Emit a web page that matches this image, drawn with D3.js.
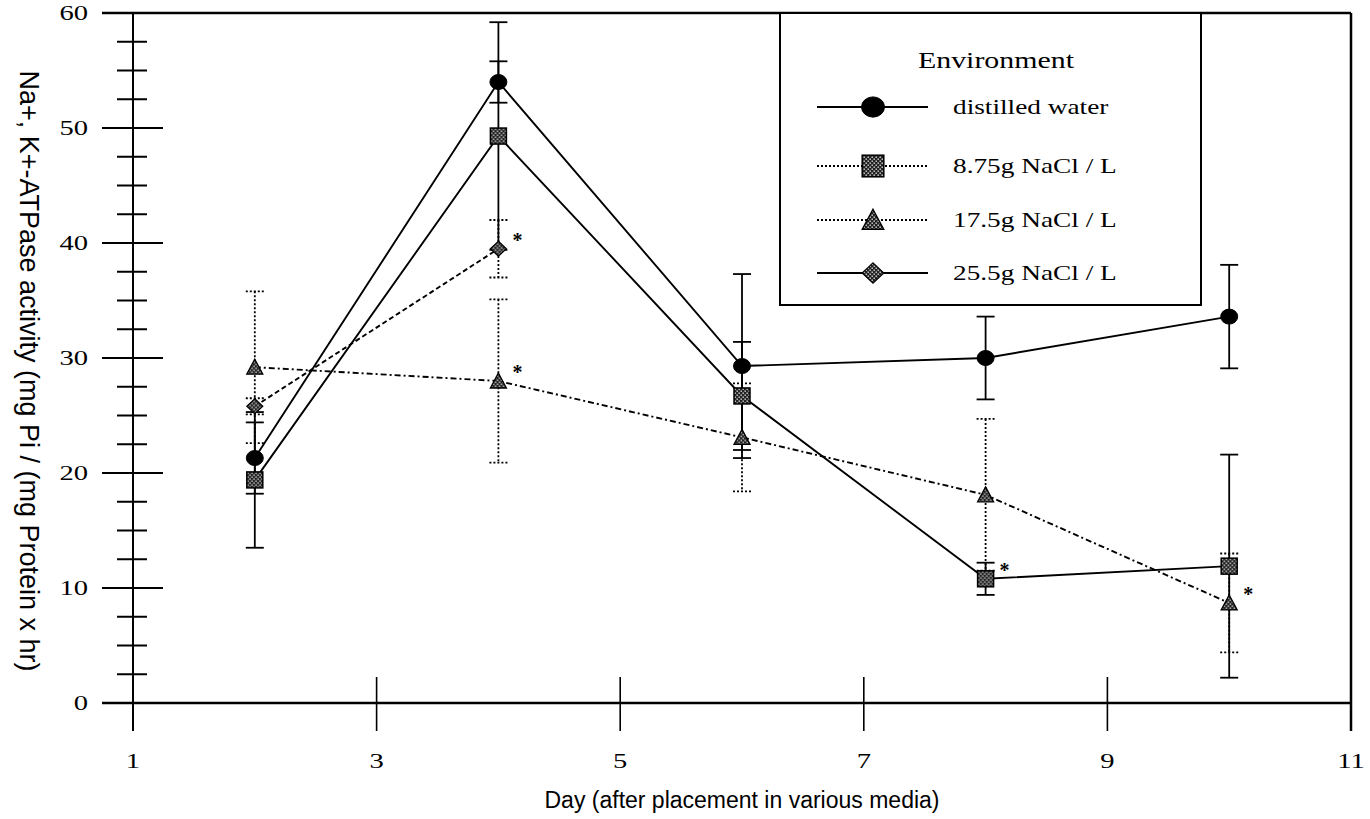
<!DOCTYPE html>
<html>
<head>
<meta charset="utf-8">
<script src="https://cdn.jsdelivr.net/npm/d3@7"></script>
<style>
  html, body { margin: 0; padding: 0; background: #fff; }
  svg { display: block; }
</style>
</head>
<body>
<svg id="chart" width="1370" height="819"></svg>
<script>
// ---- data ----
const days = [2, 4, 6, 8, 10];
const xTicks = [1, 3, 5, 7, 9, 11];
const yTicks = [0, 10, 20, 30, 40, 50, 60];

const distilledMean = [21.3, 54.0, 29.3, 30.0, 33.6];
const distilledErr  = [3.1, 1.8, 8.0, 3.6, 4.5];

const nacl875Mean = [19.4, 49.3, 26.7, 10.8, 11.9];
const nacl875Err  = [5.9, 9.9, 4.7, 1.4, 9.7];

const nacl175Mean = [29.2, 28.0, 23.1, 18.1, 8.7];
const nacl175Err  = [6.6, 7.1, 4.7, 6.6, 4.3];

const nacl255Days = [2, 4];
const nacl255Mean = [25.8, 39.5];
const nacl255Err  = [0.7, 2.5];

// significance markers
const starDays   = [4, 4, 8, 10];
const starValues = [39.5, 28.0, 10.8, 8.7];

const legendLabels = ["distilled water", "8.75g NaCl / L", "17.5g NaCl / L", "25.5g NaCl / L"];

const serif = "'Liberation Serif', 'Times New Roman', serif";
const sans = "'Liberation Sans', Arial, sans-serif";
const SX = 1.3; // horizontal stretch of the serif lettering

const svg = d3.select("#chart");
const x = d3.scaleLinear().domain([1, 11]).range([133, 1351]);
const y = d3.scaleLinear().domain([0, 60]).range([703, 13]);

// crosshatch fill used by the open markers
const defs = svg.append("defs");
const pat = defs.append("pattern").attr("id", "hatch")
  .attr("width", 4).attr("height", 4).attr("patternUnits", "userSpaceOnUse");
pat.append("rect").attr("width", 4).attr("height", 4).attr("fill", "#222");
pat.append("rect").attr("x", 0.5).attr("y", 0.5).attr("width", 1.4).attr("height", 1.4).attr("fill", "#ddd");
pat.append("rect").attr("x", 2.5).attr("y", 2.5).attr("width", 1.4).attr("height", 1.4).attr("fill", "#ddd");

// ---- frame and axes ----
const g = svg.append("g").attr("stroke", "#000").attr("fill", "none");
g.append("line").attr("x1", 102).attr("x2", x(11)).attr("y1", y(60)).attr("y2", y(60)).attr("stroke-width", 2.5);
g.append("line").attr("x1", x(11)).attr("x2", x(11)).attr("y1", y(60)).attr("y2", 731).attr("stroke-width", 2.5);
g.append("line").attr("x1", x(1)).attr("x2", x(1)).attr("y1", y(60)).attr("y2", 731).attr("stroke-width", 2);
g.append("line").attr("x1", 102).attr("x2", x(11)).attr("y1", y(0)).attr("y2", y(0)).attr("stroke-width", 2.5);

// y ticks: major every 10, minor every 2.5
const yMinor = d3.range(0, 60.01, 2.5).filter(v => v % 10 !== 0);
g.selectAll(".ymaj").data(yTicks).join("line")
  .attr("x1", 102).attr("x2", 163).attr("y1", d => y(d)).attr("y2", d => y(d)).attr("stroke-width", 2);
g.selectAll(".ymin").data(yMinor).join("line")
  .attr("x1", 117).attr("x2", 147).attr("y1", d => y(d)).attr("y2", d => y(d)).attr("stroke-width", 2);
// x ticks crossing the baseline
g.selectAll(".xmaj").data(xTicks.filter(d => d > 1 && d < 11)).join("line")
  .attr("x1", d => x(d)).attr("x2", d => x(d)).attr("y1", 677).attr("y2", 731).attr("stroke-width", 1.6);

// tick labels
svg.selectAll(".ylab").data(yTicks).join("text")
  .attr("transform", d => `translate(88,${y(d) + 7}) scale(${SX},1)`)
  .attr("text-anchor", "end").attr("font-family", serif).attr("font-size", 22)
  .text(d => d);
svg.selectAll(".xlab").data(xTicks).join("text")
  .attr("transform", d => `translate(${x(d)},768) scale(${SX},1)`)
  .attr("text-anchor", "middle").attr("font-family", serif).attr("font-size", 22)
  .text(d => d);

// axis titles
svg.append("text")
  .attr("transform", "translate(20,371) rotate(90)")
  .attr("text-anchor", "middle").attr("font-family", sans).attr("font-size", 27)
  .text("Na+, K+-ATPase activity (mg Pi / (mg Protein x hr)");
svg.append("text")
  .attr("x", 742).attr("y", 808)
  .attr("text-anchor", "middle").attr("font-family", sans).attr("font-size", 23)
  .text("Day (after placement in various media)");

// ---- markers ----
function marker(sel, kind, k = 1) {
  if (kind === "circle") {
    sel.append("ellipse").attr("rx", 8.5 * k).attr("ry", 7.5 * k).attr("fill", "#000").attr("stroke", "#000");
  } else if (kind === "square") {
    sel.append("rect").attr("x", -8 * k).attr("y", -8 * k).attr("width", 16 * k).attr("height", 16 * k)
      .attr("fill", "url(#hatch)").attr("stroke", "#000").attr("stroke-width", 1.5);
  } else if (kind === "triangle") {
    sel.append("path").attr("d", `M0,${-8 * k} L${8 * k},${7 * k} L${-8 * k},${7 * k} Z`)
      .attr("fill", "url(#hatch)").attr("stroke", "#000").attr("stroke-width", 1.3);
  } else {
    sel.append("path").attr("d", `M0,${-7.5 * k} L${8 * k},0 L0,${7.5 * k} L${-8 * k},0 Z`)
      .attr("fill", "url(#hatch)").attr("stroke", "#000").attr("stroke-width", 1.2);
  }
}

const series = [
  { d: days, m: distilledMean, e: distilledErr, kind: "circle",  line: null,      bar: null },
  { d: days, m: nacl875Mean,   e: nacl875Err,   kind: "square",  line: null,      bar: null },
  { d: days, m: nacl175Mean,   e: nacl175Err,   kind: "triangle", line: "6,3,2,3", bar: "2,2" },
  { d: nacl255Days, m: nacl255Mean, e: nacl255Err, kind: "diamond", line: "5,3", bar: "2,2" }
];

const plot = svg.append("g");
const lineGen = d3.line().x(p => x(p[0])).y(p => y(p[1]));

// error bars first
series.forEach(s => {
  const pts = s.d.map((d, i) => ({ d, m: s.m[i], e: s.e[i] }));
  const eb = plot.append("g").attr("stroke", "#000").attr("stroke-width", 1.8)
    .attr("stroke-dasharray", s.bar);
  eb.selectAll("line.v").data(pts).join("line")
    .attr("x1", p => x(p.d)).attr("x2", p => x(p.d))
    .attr("y1", p => y(Math.min(60, p.m + p.e))).attr("y2", p => y(p.m - p.e));
  eb.selectAll("line.t").data(pts.filter(p => p.m + p.e <= 60)).join("line")
    .attr("x1", p => x(p.d) - 9).attr("x2", p => x(p.d) + 9)
    .attr("y1", p => y(p.m + p.e)).attr("y2", p => y(p.m + p.e));
  eb.selectAll("line.b").data(pts).join("line")
    .attr("x1", p => x(p.d) - 9).attr("x2", p => x(p.d) + 9)
    .attr("y1", p => y(p.m - p.e)).attr("y2", p => y(p.m - p.e));
});

// connecting lines
series.forEach(s => {
  plot.append("path")
    .datum(s.d.map((d, i) => [d, s.m[i]]))
    .attr("d", lineGen)
    .attr("fill", "none").attr("stroke", "#000").attr("stroke-width", 1.9)
    .attr("stroke-dasharray", s.line);
});

// points
series.forEach(s => {
  s.d.forEach((d, i) => {
    const mg = plot.append("g").attr("transform", `translate(${x(d)},${y(s.m[i])})`);
    marker(mg, s.kind);
  });
});

// significance asterisks
plot.selectAll(".star").data(starDays.map((d, i) => [d, starValues[i]])).join("text")
  .attr("x", p => x(p[0]) + 14).attr("y", p => y(p[1]) - 2)
  .attr("font-family", serif).attr("font-size", 20).attr("font-weight", "bold")
  .text("*");

// ---- legend ----
const lg = svg.append("g");
lg.append("rect").attr("x", 780).attr("y", 13).attr("width", 421).attr("height", 292)
  .attr("fill", "#fff").attr("stroke", "#000").attr("stroke-width", 2);
lg.append("text")
  .attr("transform", `translate(996,68) scale(${SX},1)`)
  .attr("text-anchor", "middle").attr("font-family", serif).attr("font-size", 23)
  .text("Environment");
const rowY = [107, 166, 220, 273];
const legDash = [null, "2,2", "2,2", null];
const kinds = ["circle", "square", "triangle", "diamond"];
legendLabels.forEach((lab, i) => {
  lg.append("line").attr("x1", 817).attr("x2", 928).attr("y1", rowY[i]).attr("y2", rowY[i])
    .attr("stroke", "#000").attr("stroke-width", 1.8).attr("stroke-dasharray", legDash[i]);
  const mg = lg.append("g").attr("transform", `translate(873,${rowY[i]})`);
  marker(mg, kinds[i], 1.35);
  lg.append("text")
    .attr("transform", `translate(953,${rowY[i] + 7}) scale(${SX},1)`)
    .attr("font-family", serif).attr("font-size", 21)
    .text(lab);
});
</script>
</body>
</html>
